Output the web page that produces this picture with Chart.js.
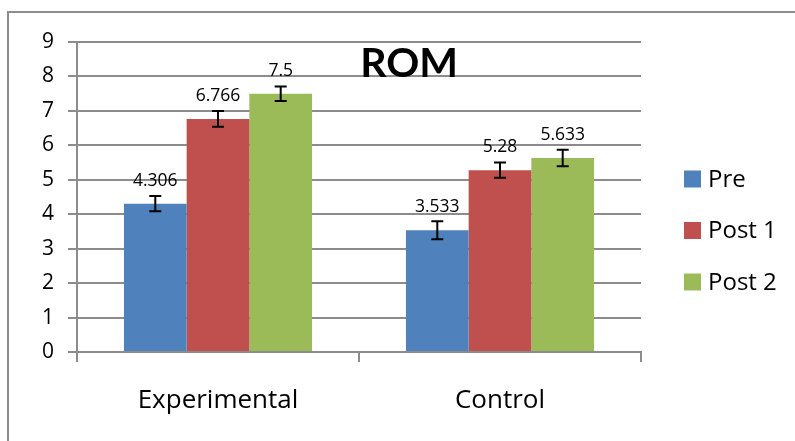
<!DOCTYPE html>
<html>
<head>
<meta charset="utf-8">
<script src="https://cdn.jsdelivr.net/npm/chart.js@4"></script>
<style>
  html, body { margin: 0; padding: 0; background: #fff; }
  #wrap { position: relative; width: 795px; height: 441px; }
  #frame {
    position: absolute; left: 7px; top: 11px; right: 0; bottom: 0;
    border-top: 2px solid #8c8c8c; border-left: 2px solid #8c8c8c;
  }
  #chart { position: absolute; left: 0; top: 0; }
</style>
</head>
<body>
<div id="wrap">
  <div id="frame"></div>
  <canvas id="chart" width="795" height="441"></canvas>
</div>
<script>
const categories = ["Experimental", "Control"];
const seriesNames = ["Pre", "Post 1", "Post 2"];
const preValues = [4.306, 3.533];
const post1Values = [6.766, 5.28];
const post2Values = [7.5, 5.633];
const preErrors = [0.22, 0.26];
const post1Errors = [0.23, 0.22];
const post2Errors = [0.21, 0.24];
const yTicks = [0, 1, 2, 3, 4, 5, 6, 7, 8, 9];

const FONT = "'Open Sans', Lato, sans-serif";
const GRID = "#8c8c8c";

// error bars drawn from the arrays through the scales
const errorBarPlugin = {
  id: "errorBars",
  afterDatasetsDraw(chart) {
    const ctx = chart.ctx;
    const y = chart.scales.y;
    ctx.save();
    ctx.strokeStyle = "#000";
    ctx.lineWidth = 2;
    chart.data.datasets.forEach((ds, i) => {
      const meta = chart.getDatasetMeta(i);
      meta.data.forEach((bar, j) => {
        const v = ds.data[j];
        const e = ds.errors[j];
        const top = y.getPixelForValue(v + e);
        const bot = y.getPixelForValue(v - e);
        const x = bar.x;
        ctx.beginPath();
        ctx.moveTo(x, top); ctx.lineTo(x, bot);
        ctx.moveTo(x - 6, top); ctx.lineTo(x + 6, top);
        ctx.moveTo(x - 6, bot); ctx.lineTo(x + 6, bot);
        ctx.stroke();
      });
    });
    ctx.restore();
  }
};

// value labels above each bar
const valueLabelPlugin = {
  id: "valueLabels",
  afterDatasetsDraw(chart) {
    const ctx = chart.ctx;
    ctx.save();
    ctx.fillStyle = "#000";
    ctx.font = "17.5px " + FONT;
    ctx.textAlign = "center";
    ctx.textBaseline = "alphabetic";
    chart.data.datasets.forEach((ds, i) => {
      chart.getDatasetMeta(i).data.forEach((bar, j) => {
        ctx.fillText(String(ds.data[j]), bar.x, bar.y - 18);
      });
    });
    ctx.restore();
  }
};

// "ROM" title sits inside the plot area
const innerTitlePlugin = {
  id: "innerTitle",
  afterDraw(chart) {
    const ctx = chart.ctx;
    const a = chart.chartArea;
    ctx.save();
    ctx.fillStyle = "#000";
    ctx.font = "bold 41px Lato, sans-serif";
    ctx.textAlign = "center";
    ctx.textBaseline = "alphabetic";
    ctx.fillText("ROM", a.left + (a.right - a.left) * 0.589, a.top + 35);
    ctx.restore();
  }
};

// legend on the right, Excel style (square + label, rows spaced apart)
const sideLegendPlugin = {
  id: "sideLegend",
  afterDraw(chart) {
    const ctx = chart.ctx;
    const a = chart.chartArea;
    ctx.save();
    ctx.font = "24px " + FONT;
    ctx.textBaseline = "middle";
    ctx.textAlign = "left";
    chart.data.datasets.forEach((ds, i) => {
      const cy = a.top + 137 + i * 51.5;
      const x = a.right + 43;
      ctx.fillStyle = ds.backgroundColor;
      ctx.fillRect(x, cy - 8.5, 17, 17);
      ctx.fillStyle = "#000";
      ctx.fillText(ds.label, x + 24, cy + 1);
    });
    ctx.restore();
  }
};

const colors = ["#4F81BD", "#C0504D", "#9BBB59"];
const values = [preValues, post1Values, post2Values];
const errors = [preErrors, post1Errors, post2Errors];

new Chart(document.getElementById("chart"), {
  type: "bar",
  data: {
    labels: categories,
    datasets: seriesNames.map((name, i) => ({
      label: name,
      data: values[i],
      errors: errors[i],
      backgroundColor: colors[i],
      borderWidth: 0,
      categoryPercentage: 0.667,
      barPercentage: 1.0
    }))
  },
  options: {
    responsive: false,
    animation: false,
    layout: { padding: { top: 42, right: 154, left: 0, bottom: 0 } },
    scales: {
      x: {
        grid: {
          offset: true,
          drawOnChartArea: false,
          color: GRID,
          lineWidth: 2,
          tickLength: 10
        },
        border: { color: GRID, width: 2 },
        ticks: { color: "#000", font: { family: FONT, size: 26 }, padding: 23 },
        afterFit(scale) { scale.height = 89; }
      },
      y: {
        min: 0,
        max: 9,
        afterBuildTicks(scale) { scale.ticks = yTicks.map(v => ({ value: v })); },
        grid: { color: GRID, lineWidth: 2, tickLength: 9 },
        border: { color: GRID, width: 2 },
        ticks: { color: "#000", font: { family: FONT, size: 21 }, padding: 14 },
        afterFit(scale) { scale.width = 77; }
      }
    },
    plugins: {
      legend: { display: false },
      tooltip: { enabled: false }
    }
  },
  plugins: [errorBarPlugin, valueLabelPlugin, innerTitlePlugin, sideLegendPlugin]
});
</script>
</body>
</html>
